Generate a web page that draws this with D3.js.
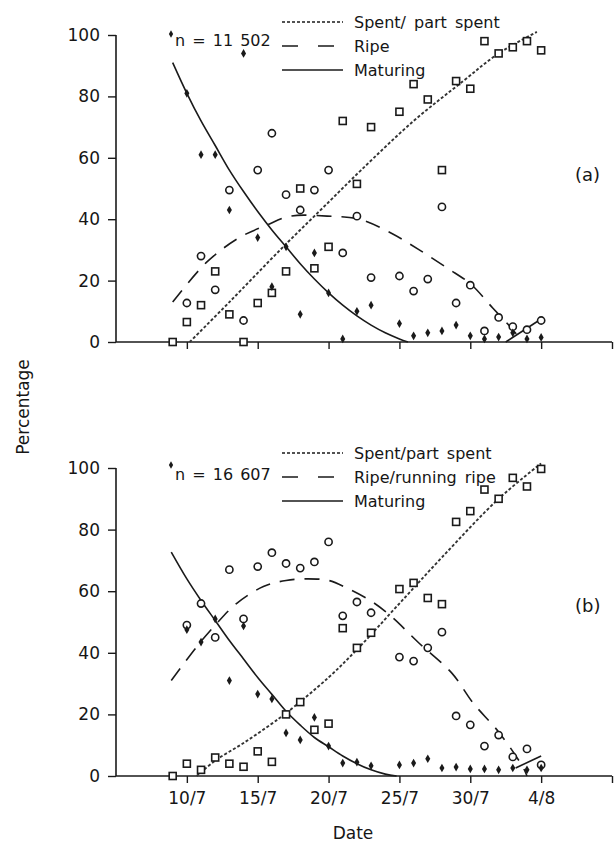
<!DOCTYPE html>
<html>
<head>
<meta charset="utf-8">
<script src="https://cdn.jsdelivr.net/npm/d3@7"></script>
<style>
  body { margin: 0; background: #fff; }
  text { font-family: "DejaVu Sans", sans-serif; fill: #161616; }
</style>
</head>
<body>
<div id="chart"></div>
<script>
// days counted from 1 July (32 = 1/8)
var xTicks = [10, 15, 20, 25, 30, 35, 40];
var yTicks = [0, 20, 40, 60, 80, 100];

// panel (a) observations [day, %]
var spentA = [[9,0],[10,6.5],[11,12],[12,23],[13,9],[14,0],[15,12.7],[16,16],[17,23],[18,50],[19,24],[20,31],[21,72],[22,51.5],[23,70],[25,75],[26,84],[27,79],[28,56],[29,85],[30,82.5],[31,98],[32,94],[33,96],[34,98],[35,95]];
var ripeA = [[10,12.7],[11,28],[12,17],[13,49.5],[14,7],[15,56],[16,68],[17,48],[18,43],[19,49.5],[20,56],[21,29],[22,41],[23,21],[25,21.5],[26,16.6],[27,20.5],[28,44],[29,12.7],[30,18.5],[31,3.6],[32,8],[33,5],[34,4],[35,7]];
var maturingA = [[10,81],[11,61],[12,61],[13,43],[14,94],[15,34],[16,18],[17,31],[18,9],[19,29],[20,16],[21,1],[22,10],[23,12],[25,6],[26,2],[27,3],[28,3.6],[29,5.5],[30,2],[31,1],[32,1.6],[33,3],[34,1],[35,1.5]];

// panel (a) fitted curves
var fitSpentA = [[10.2,0],[13,13],[16.8,31],[20.1,46],[22.3,56],[26,72],[29.5,85],[32,94],[34.7,101]];
var fitRipeA = [[9,13],[11.4,26],[13.7,34],[15.6,38],[17.3,41],[19.9,41],[22.2,40],[24.4,35.5],[26.4,30],[28.4,24],[30,19],[31.6,11],[33,4],[33.7,0]];
var fitMaturingA = [[9,91],[10,81],[11,72],[12,64],[13,56],[14,49],[15,42.5],[16,36.5],[17,31],[18,25.5],[19,20.5],[20,16],[21,12],[22,8.5],[23,5.5],[24,3],[25,1],[25.6,0]];
var fitMaturingA2 = [[32.5,0],[35,7.5]];

// panel (b) observations [day, %]
var spentB = [[9,0],[10,4],[11,2],[12,6],[13,4],[14,3],[15,8],[16,4.6],[17,20],[18,24],[19,15],[20,17],[21,48],[22,41.6],[23,46.5],[25,60.7],[26,62.7],[27,57.8],[28,55.8],[29,82.5],[30,86],[31,93],[32,90],[33,96.8],[34,94],[35,99.7]];
var ripeB = [[10,49],[11,56],[12,45],[13,67],[14,51],[15,68],[16,72.5],[17,69],[18,67.5],[19,69.5],[20,76],[21,52],[22,56.5],[23,53],[25,38.6],[26,37.3],[27,41.6],[28,46.7],[29,19.5],[30,16.6],[31,9.7],[32,13.3],[33,6.2],[34,8.8],[35,3.6]];
var maturingB = [[10,47.5],[11,43.5],[12,51],[13,31],[14,48.7],[15,26.6],[16,25],[17,14],[18,11.7],[19,19],[20,9.7],[21,4.2],[22,4.5],[23,3.3],[25,3.6],[26,4.2],[27,5.6],[28,2.6],[29,2.9],[30,2.3],[31,2.3],[32,2],[33,2.6],[34,2],[35,2.6]];

// panel (b) fitted curves
var fitSpentB = [[10.7,0],[12,5],[14,10.7],[16,17],[17,20.4],[20,32],[22.2,42],[24.8,55],[28,71],[32,90],[35,101.5]];
var fitRipeB = [[8.9,31],[10.7,42],[12,49],[13.5,56],[15.4,61.5],[17,63.5],[18.5,64],[20,63.5],[21.3,61],[23.1,56.5],[24.5,51.5],[26.3,43.5],[28.7,33.4],[30.2,23.7],[32,14.3],[33.7,3],[34,0]];
var fitMaturingB = [[8.9,72.7],[10,64],[11,57],[12,50.5],[13,44],[14,38],[15,32],[16,26.5],[17,21],[18,16.5],[19,12.5],[20,9.5],[21,6.5],[22,4],[23,2],[24,0.6],[24.8,0]];
var fitMaturingB2 = [[33.2,2.6],[35,6.5]];

var legendA = ["Spent/ part spent", "Ripe", "Maturing"];
var legendB = ["Spent/part spent", "Ripe/running ripe", "Maturing"];

var svgWidth = 614, svgHeight = 844;
var svg = d3.select("#chart").append("svg")
  .attr("width", svgWidth)
  .attr("height", svgHeight);

var x = d3.scaleLinear().domain([5, 40]).range([116, 612]);

var ink = "#1a1a1a";
var dashSpent = "3,2", dashRipe = "15,10";

var panels = [
  { top: 35, bottom: 342, spent: spentA, ripe: ripeA, mat: maturingA,
    fits: [fitSpentA, fitRipeA, fitMaturingA, fitMaturingA2],
    legend: legendA, n: "n = 11 502", tag: "(a)", tagY: 175, legY: 22, nY: 46, labels: false },
  { top: 468, bottom: 776, spent: spentB, ripe: ripeB, mat: maturingB,
    fits: [fitSpentB, fitRipeB, fitMaturingB, fitMaturingB2],
    legend: legendB, n: "n = 16 607", tag: "(b)", tagY: 606, legY: 453, nY: 480, labels: true }
];

function dayLabel(d) {
  if (d > 37) return "";
  return d <= 31 ? d + "/7" : (d - 31) + "/8";
}

panels.forEach(function(p) {
  var y = d3.scaleLinear().domain([0, 100]).range([p.bottom, p.top]);
  var g = svg.append("g");

  // axes
  var yAxis = d3.axisLeft(y).tickValues(yTicks).tickSize(8).tickPadding(8);
  var gy = g.append("g").attr("transform", "translate(116,0)").call(yAxis);
  gy.select(".domain").remove();
  gy.append("line").attr("x1", 0).attr("x2", 0).attr("y1", p.top).attr("y2", p.bottom)
    .attr("stroke", ink).attr("stroke-width", 1.6);

  var xAxis = d3.axisBottom(x).tickValues(xTicks).tickSize(7).tickPadding(9)
    .tickFormat(p.labels ? dayLabel : function() { return ""; });
  var gx = g.append("g").attr("transform", "translate(0," + p.bottom + ")").call(xAxis);
  gx.select(".domain").remove();
  gx.append("line").attr("x1", 116).attr("x2", 612).attr("y1", 0).attr("y2", 0)
    .attr("stroke", ink).attr("stroke-width", 1.6);

  [gx, gy].forEach(function(a) {
    a.selectAll(".tick line").attr("stroke", ink).attr("stroke-width", 1.4);
    a.selectAll(".tick text").attr("font-size", 17).attr("fill", ink)
      .style("font-family", '"DejaVu Sans", sans-serif');
  });

  // fitted lines
  var line = d3.line()
    .x(function(d) { return x(d[0]); })
    .y(function(d) { return y(d[1]); })
    .curve(d3.curveCatmullRom);
  var styles = [dashSpent, dashRipe, null, null];
  p.fits.forEach(function(f, i) {
    g.append("path").datum(f).attr("d", line)
      .attr("fill", "none")
      .attr("stroke", i === 0 ? "#333" : ink)
      .attr("stroke-width", i === 0 ? 1.9 : 1.6)
      .attr("stroke-dasharray", styles[i]);
  });

  // markers
  g.selectAll(".sq").data(p.spent).enter().append("rect")
    .attr("x", function(d) { return x(d[0]) - 3.5; })
    .attr("y", function(d) { return y(d[1]) - 3.5; })
    .attr("width", 7).attr("height", 7)
    .attr("fill", "#fff").attr("stroke", ink).attr("stroke-width", 1.6);

  g.selectAll(".ci").data(p.ripe).enter().append("circle")
    .attr("cx", function(d) { return x(d[0]); })
    .attr("cy", function(d) { return y(d[1]); })
    .attr("r", 3.6)
    .attr("fill", "#fff").attr("stroke", ink).attr("stroke-width", 1.6);

  g.selectAll(".di").data(p.mat).enter().append("path")
    .attr("d", d3.symbol().type(d3.symbolDiamond).size(22))
    .attr("transform", function(d) { return "translate(" + x(d[0]) + "," + y(d[1]) + ")"; })
    .attr("fill", ink);

  // legend
  var lx1 = 282, lx2 = 343;
  var legDash = [dashSpent, "16,20", null];
  p.legend.forEach(function(t, i) {
    var ly = p.legY + i * 24;
    g.append("line").attr("x1", lx1).attr("x2", lx2).attr("y1", ly).attr("y2", ly)
      .attr("stroke", ink).attr("stroke-width", 1.6)
      .attr("stroke-dasharray", legDash[i]);
    g.append("text").attr("x", 354).attr("y", ly + 6)
      .attr("font-size", 16).attr("word-spacing", 3).text(t);
  });
  g.append("path")
    .attr("d", d3.symbol().type(d3.symbolDiamond).size(16))
    .attr("transform", "translate(171," + (p.legY + 12) + ")")
    .attr("fill", ink);
  g.append("text").attr("x", 175).attr("y", p.nY)
    .attr("font-size", 16).attr("word-spacing", 2).text(p.n);

  g.append("text").attr("x", 575).attr("y", p.tagY + 6)
    .attr("font-size", 18).text(p.tag);
});

svg.append("text")
  .attr("transform", "translate(29,407) rotate(-90)")
  .attr("text-anchor", "middle")
  .attr("font-size", 17)
  .text("Percentage");

svg.append("text")
  .attr("x", 353).attr("y", 839)
  .attr("text-anchor", "middle")
  .attr("font-size", 17)
  .text("Date");
</script>
</body>
</html>
